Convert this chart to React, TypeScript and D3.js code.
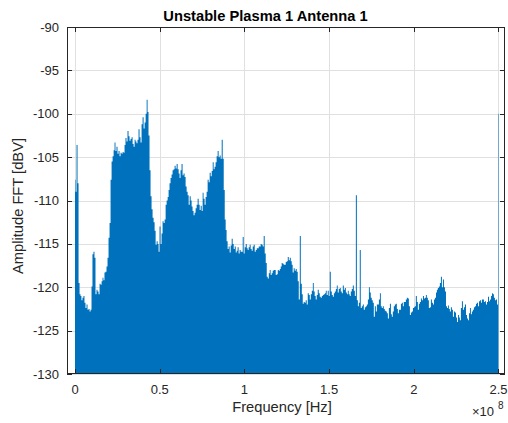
import React from "react";
import * as d3 from "d3";

const xTicks = [0, 0.5e8, 1e8, 1.5e8, 2e8, 2.5e8];
const xTickLabels = ["0", "0.5", "1", "1.5", "2", "2.5"];
const yTicks = [-130, -125, -120, -115, -110, -105, -100, -95, -90];

const freqMHz = [
  0.0, 0.6, 1.2, 1.8, 2.4, 3.0, 3.5, 4.1, 4.7, 5.3, 5.9, 6.5, 7.1, 7.7, 8.3, 8.9, 9.5, 10.0, 10.6, 11.2,
  11.8, 12.4, 13.0, 13.6, 14.2, 14.8, 15.4, 16.0, 16.5, 17.1, 17.7, 18.3, 18.9, 19.5, 20.1, 20.7, 21.3, 21.9, 22.5, 23.1,
  23.6, 24.2, 24.8, 25.4, 26.0, 26.6, 27.2, 27.8, 28.4, 29.0, 29.5, 30.1, 30.7, 31.3, 31.9, 32.5, 33.1, 33.7, 34.3, 34.9,
  35.5, 36.0, 36.6, 37.2, 37.8, 38.4, 39.0, 39.6, 40.2, 40.8, 41.4, 42.0, 42.6, 43.1, 43.7, 44.3, 44.9, 45.5, 46.1, 46.7,
  47.3, 47.9, 48.5, 49.1, 49.6, 50.2, 50.8, 51.4, 52.0, 52.6, 53.2, 53.8, 54.4, 55.0, 55.5, 56.1, 56.7, 57.3, 57.9, 58.5,
  59.1, 59.7, 60.3, 60.9, 61.5, 62.0, 62.6, 63.2, 63.8, 64.4, 65.0, 65.6, 66.2, 66.8, 67.4, 68.0, 68.6, 69.1, 69.7, 70.3,
  70.9, 71.5, 72.1, 72.7, 73.3, 73.9, 74.5, 75.1, 75.6, 76.2, 76.8, 77.4, 78.0, 78.6, 79.2, 79.8, 80.4, 81.0, 81.6, 82.1,
  82.7, 83.3, 83.9, 84.5, 85.1, 85.7, 86.3, 86.9, 87.5, 88.1, 88.7, 89.2, 89.8, 90.4, 91.0, 91.6, 92.2, 92.8, 93.4, 94.0,
  94.6, 95.2, 95.7, 96.3, 96.9, 97.5, 98.1, 98.7, 99.3, 99.9, 100.5, 101.1, 101.7, 102.2, 102.8, 103.4, 104.0, 104.6, 105.2, 105.8,
  106.4, 107.0, 107.6, 108.2, 108.7, 109.3, 109.9, 110.5, 111.1, 111.7, 112.3, 112.9, 113.5, 114.1, 114.7, 115.2, 115.8, 116.4, 117.0, 117.6,
  118.2, 118.8, 119.4, 120.0, 120.6, 121.2, 121.7, 122.3, 122.9, 123.5, 124.1, 124.7, 125.3, 125.9, 126.5, 127.1, 127.7, 128.2, 128.8, 129.4,
  130.0, 130.6, 131.2, 131.8, 132.4, 133.0, 133.6, 134.2, 134.7, 135.3, 135.9, 136.5, 137.1, 137.7, 138.3, 138.9, 139.5, 140.1, 140.7, 141.2,
  141.8, 142.4, 143.0, 143.6, 144.2, 144.8, 145.4, 146.0, 146.6, 147.2, 147.8, 148.3, 148.9, 149.5, 150.1, 150.7, 151.3, 151.9, 152.5, 153.1,
  153.7, 154.3, 154.8, 155.4, 156.0, 156.6, 157.2, 157.8, 158.4, 159.0, 159.6, 160.2, 160.8, 161.3, 161.9, 162.5, 163.1, 163.7, 164.3, 164.9,
  165.5, 166.1, 166.7, 167.3, 167.8, 168.4, 169.0, 169.6, 170.2, 170.8, 171.4, 172.0, 172.6, 173.2, 173.8, 174.3, 174.9, 175.5, 176.1, 176.7,
  177.3, 177.9, 178.5, 179.1, 179.7, 180.3, 180.8, 181.4, 182.0, 182.6, 183.2, 183.8, 184.4, 185.0, 185.6, 186.2, 186.8, 187.3, 187.9, 188.5,
  189.1, 189.7, 190.3, 190.9, 191.5, 192.1, 192.7, 193.3, 193.8, 194.4, 195.0, 195.6, 196.2, 196.8, 197.4, 198.0, 198.6, 199.2, 199.8, 200.3,
  200.9, 201.5, 202.1, 202.7, 203.3, 203.9, 204.5, 205.1, 205.7, 206.3, 206.9, 207.4, 208.0, 208.6, 209.2, 209.8, 210.4, 211.0, 211.6, 212.2,
  212.8, 213.4, 213.9, 214.5, 215.1, 215.7, 216.3, 216.9, 217.5, 218.1, 218.7, 219.3, 219.9, 220.4, 221.0, 221.6, 222.2, 222.8, 223.4, 224.0,
  224.6, 225.2, 225.8, 226.4, 226.9, 227.5, 228.1, 228.7, 229.3, 229.9, 230.5, 231.1, 231.7, 232.3, 232.9, 233.4, 234.0, 234.6, 235.2, 235.8,
  236.4, 237.0, 237.6, 238.2, 238.8, 239.4, 239.9, 240.5, 241.1, 241.7, 242.3, 242.9, 243.5, 244.1, 244.7, 245.3, 245.9, 246.4, 247.0, 247.6,
  248.2, 248.8, 249.4, 250.0,
];

const amplitudeDbV = [
  -107.6, -109.0, -103.6, -108.0, -119.5, -120.8, -121.0, -121.5, -121.2, -121.0, -121.8, -122.4, -122.0, -122.6, -122.5, -122.8, -122.6, -119.9, -116.2, -115.9,
  -116.6, -120.8, -120.3, -120.5, -120.8, -119.6, -119.7, -119.3, -118.9, -119.2, -118.3, -118.2, -117.6, -116.6, -114.3, -112.6, -107.6, -105.5, -104.9, -104.2,
  -103.3, -104.3, -103.8, -104.6, -104.3, -104.9, -104.5, -104.6, -104.4, -104.5, -103.6, -102.8, -103.2, -102.0, -102.6, -103.1, -102.9, -102.7, -103.5, -103.8,
  -103.0, -103.2, -103.4, -103.0, -101.8, -102.7, -103.3, -101.2, -100.4, -101.7, -101.0, -100.0, -98.4, -99.8, -102.5, -106.5, -109.5, -111.0, -112.0, -112.5,
  -113.5, -115.1, -114.7, -115.0, -115.9, -113.0, -115.0, -113.8, -112.4, -112.6, -112.2, -110.5, -110.0, -109.6, -108.8, -108.0, -107.4, -107.0, -106.5, -106.4,
  -106.0, -106.3, -105.8, -106.4, -106.9, -107.4, -106.5, -105.8, -107.1, -106.9, -107.3, -108.4, -109.0, -109.4, -110.5, -109.5, -110.0, -110.7, -111.2, -111.7,
  -111.4, -110.9, -110.5, -109.8, -110.5, -111.1, -110.6, -111.2, -109.1, -109.8, -110.5, -109.6, -109.0, -107.6, -107.9, -106.8, -107.2, -106.6, -105.6, -106.4,
  -106.1, -105.6, -104.9, -104.3, -105.0, -104.8, -105.2, -103.0, -105.2, -108.8, -112.2, -113.4, -114.7, -115.6, -115.3, -116.0, -115.2, -114.4, -115.0, -115.6,
  -115.3, -116.0, -115.8, -115.4, -116.1, -115.7, -115.9, -115.9, -114.2, -116.1, -115.4, -115.0, -115.5, -115.7, -115.4, -115.1, -115.6, -115.8, -115.3, -115.1,
  -115.9, -115.7, -115.5, -115.5, -115.3, -115.3, -115.0, -115.1, -115.3, -114.1, -116.1, -117.2, -118.8, -119.0, -118.4, -118.0, -118.6, -118.4, -118.1, -118.0,
  -118.0, -118.6, -118.5, -118.0, -118.1, -117.9, -117.6, -117.2, -117.3, -117.4, -117.4, -117.1, -117.0, -116.5, -116.9, -116.6, -117.0, -117.4, -118.3, -117.8,
  -118.1, -117.9, -118.2, -119.3, -121.4, -114.1, -119.6, -120.8, -121.9, -121.7, -121.8, -121.5, -122.0, -120.7, -120.9, -121.4, -120.8, -120.4, -119.5, -120.5,
  -121.0, -121.4, -120.9, -120.3, -120.7, -121.1, -121.2, -121.0, -120.9, -120.8, -120.7, -120.4, -120.9, -120.4, -121.0, -118.2, -120.5, -120.9, -121.1, -120.7,
  -120.5, -120.2, -119.8, -120.6, -120.2, -120.1, -120.5, -120.7, -119.8, -120.3, -120.1, -120.6, -120.8, -120.4, -120.8, -121.0, -120.5, -120.2, -119.8, -120.4,
  -121.0, -109.4, -121.5, -122.2, -121.8, -115.7, -122.4, -122.2, -122.0, -122.6, -122.3, -122.2, -122.0, -121.4, -120.0, -120.6, -121.2, -121.5, -121.8, -123.4,
  -122.2, -122.8, -122.0, -122.0, -121.4, -120.7, -122.2, -122.4, -122.2, -122.5, -122.7, -122.8, -123.0, -123.6, -122.4, -121.9, -123.1, -123.4, -122.8, -122.2,
  -122.0, -121.9, -122.5, -123.0, -122.6, -122.6, -121.9, -121.8, -122.2, -121.7, -121.7, -121.4, -121.2, -121.3, -122.2, -123.2, -122.9, -122.8, -122.4, -122.3,
  -122.2, -121.0, -121.7, -122.6, -121.9, -121.7, -121.3, -121.5, -121.0, -121.3, -121.2, -120.9, -121.2, -121.5, -122.4, -122.3, -121.4, -121.8, -122.0, -121.4,
  -121.2, -120.6, -120.3, -120.1, -119.9, -119.5, -118.8, -120.0, -119.1, -120.0, -120.5, -122.2, -122.4, -122.1, -122.5, -122.8, -122.3, -122.6, -123.4, -122.8,
  -122.9, -123.5, -124.0, -123.2, -123.5, -123.8, -122.4, -121.6, -122.6, -122.3, -122.0, -123.2, -123.6, -123.8, -123.0, -122.4, -123.1, -122.8, -122.6, -122.3,
  -122.2, -121.9, -121.8, -122.2, -121.6, -121.5, -121.8, -121.4, -121.4, -121.7, -121.6, -122.0, -121.7, -121.1, -121.6, -121.4, -121.0, -120.7, -120.8, -121.2,
  -121.5, -121.4, -122.0, -100.0,
];

const FONT = "'Liberation Sans', Arial, Helvetica, sans-serif";
const TEXT = "#262626";
const BLUE = "#0072BD";

export default function App() {
  const W = 508;
  const H = 423;
  const left = 67;
  const right = 505;
  const top = 27;
  const bottom = 374;

  const x = d3.scaleLinear().domain([-4.72e6, 253.84e6]).range([left, right]);
  const y = d3.scaleLinear().domain([-130, -90]).range([bottom, top]);

  const data = freqMHz.map((f, i) => ({ f: f * 1e6, a: amplitudeDbV[i] }));
  const area = d3
    .area<{ f: number; a: number }>()
    .x((d) => x(d.f))
    .y0(y(-130))
    .y1((d) => y(d.a))
    .curve(d3.curveStep);

  const tl = 5;

  return (
    <svg
      width={W}
      height={H}
      style={{ position: "absolute", left: 0, top: 0, background: "#fff" }}
      fontFamily={FONT}
    >
      <rect x={0} y={0} width={W} height={H} fill="#fff" />
      <defs>
        <clipPath id="plotClip">
          <rect x={left} y={top} width={right - left} height={bottom - top} />
        </clipPath>
      </defs>
      <g stroke="#e0e0e0" strokeWidth={1}>
        {xTicks.map((t) => (
          <line key={"gx" + t} x1={Math.round(x(t)) + 0.5} x2={Math.round(x(t)) + 0.5} y1={top} y2={bottom} />
        ))}
        {yTicks.map((t) => (
          <line key={"gy" + t} x1={left} x2={right} y1={Math.round(y(t)) + 0.5} y2={Math.round(y(t)) + 0.5} />
        ))}
      </g>
      <g clipPath="url(#plotClip)">
        <path d={area(data) || ""} fill={BLUE} stroke="none" />
      </g>
      <g stroke={TEXT} strokeWidth={1} fill="none">
        <rect x={left + 0.5} y={top + 0.5} width={right - left - 1} height={bottom - top - 1} />
        {xTicks.map((t) => {
          const px = Math.round(x(t)) + 0.5;
          return (
            <g key={"tx" + t}>
              <line x1={px} x2={px} y1={bottom} y2={bottom - tl} />
              <line x1={px} x2={px} y1={top} y2={top + tl} />
            </g>
          );
        })}
        {yTicks.map((t) => {
          const py = Math.round(y(t)) + 0.5;
          return (
            <g key={"ty" + t}>
              <line x1={left} x2={left + tl} y1={py} y2={py} />
              <line x1={right} x2={right - tl} y1={py} y2={py} />
            </g>
          );
        })}
      </g>
      <g fill={TEXT} fontSize={13}>
        {xTicks.map((t, i) => (
          <text key={"lx" + t} x={x(t)} y={393.5} textAnchor="middle">
            {xTickLabels[i]}
          </text>
        ))}
        {yTicks.map((t) => (
          <text key={"ly" + t} x={59} y={y(t) + 4.6} textAnchor="end">
            {String(t)}
          </text>
        ))}
      </g>
      <text x={494} y={416} textAnchor="end" fill={TEXT} fontSize={13}>
        {"\u00d710"}
      </text>
      <text x={498} y={409} fill={TEXT} fontSize={10}>
        8
      </text>
      <text x={282} y={412} textAnchor="middle" fill={TEXT} fontSize={14.7}>
        Frequency [Hz]
      </text>
      <text
        transform={`translate(22.5, 206) rotate(-90)`}
        textAnchor="middle"
        fill={TEXT}
        fontSize={14.7}
      >
        Amplitude FFT [dBV]
      </text>
      <text x={265.5} y={21} textAnchor="middle" fill="#000" fontSize={14.7} fontWeight="bold">
        Unstable Plasma 1 Antenna 1
      </text>
    </svg>
  );
}
